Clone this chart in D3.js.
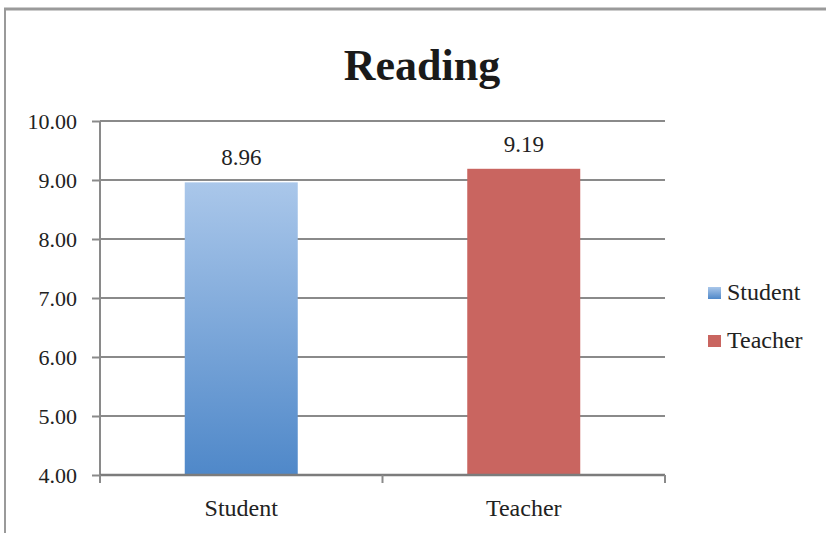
<!DOCTYPE html>
<html>
<head>
<meta charset="utf-8">
<script src="https://cdn.jsdelivr.net/npm/d3@7"></script>
<style>
  html, body { margin: 0; padding: 0; background: #fff; }
  svg { display: block; }
</style>
</head>
<body>
<svg id="chart" width="826" height="533"></svg>
<script>
// Average reading scores by respondent group
const categories = ["Student", "Teacher"];
const values = [8.96, 9.19];
const yTicks = [4, 5, 6, 7, 8, 9, 10];
const title = "Reading";

const colors = { Student: "#6f9fd6", Teacher: "#c96560" };

const svg = d3.select("#chart");
const W = 826, H = 533;
const margin = { left: 100, right: 161, top: 121, bottom: 58 };
const plotW = W - margin.left - margin.right;
const plotH = H - margin.top - margin.bottom;

const serif = "'Liberation Serif', 'DejaVu Serif', serif";
const gridColor = "#8a8a8a";
const textColor = "#222";

// Outer frame: top and left edges
svg.append("line").attr("x1", 4).attr("x2", W).attr("y1", 9).attr("y2", 9)
  .attr("stroke", "#9a9a9a").attr("stroke-width", 3);
svg.append("line").attr("x1", 5).attr("x2", 5).attr("y1", 8).attr("y2", H)
  .attr("stroke", "#9a9a9a").attr("stroke-width", 2);

// Gradient for the student bar
const defs = svg.append("defs");
const grad = defs.append("linearGradient").attr("id", "studentGrad")
  .attr("x1", 0).attr("y1", 0).attr("x2", 0).attr("y2", 1);
grad.append("stop").attr("offset", "0%").attr("stop-color", "#aac7ea");
grad.append("stop").attr("offset", "100%").attr("stop-color", "#4f88c9");

const g = svg.append("g").attr("transform", `translate(${margin.left},${margin.top})`);

const x = d3.scaleBand().domain(categories).range([0, plotW]).paddingInner(0.6).paddingOuter(0.3);
const y = d3.scaleLinear().domain([4, 10]).range([plotH, 0]);

// Horizontal gridlines
g.append("g").selectAll("line").data(yTicks.filter(d => d !== 4)).join("line")
  .attr("x1", 0).attr("x2", plotW)
  .attr("y1", d => y(d)).attr("y2", d => y(d))
  .attr("stroke", gridColor).attr("stroke-width", 2);

// Bars
g.append("g").selectAll("rect").data(categories).join("rect")
  .attr("x", d => x(d))
  .attr("width", x.bandwidth())
  .attr("y", (d, i) => y(values[i]))
  .attr("height", (d, i) => y(4) - y(values[i]))
  .attr("fill", d => d === "Student" ? "url(#studentGrad)" : colors[d]);

// Value labels
g.append("g").selectAll("text").data(categories).join("text")
  .attr("x", d => x(d) + x.bandwidth() / 2)
  .attr("y", (d, i) => y(values[i]) - 17)
  .attr("text-anchor", "middle")
  .attr("font-family", serif).attr("font-size", 23).attr("fill", textColor)
  .text((d, i) => values[i].toFixed(2));

// Y axis
const yAxis = g.append("g").call(
  d3.axisLeft(y).tickValues(yTicks).tickFormat(d3.format(".2f")).tickSize(8).tickPadding(15)
);
yAxis.select(".domain").attr("stroke", gridColor).attr("stroke-width", 2).attr("d", `M0,0V${plotH}`);
yAxis.selectAll(".tick line").attr("stroke", gridColor).attr("stroke-width", 2);
yAxis.selectAll(".tick text").attr("font-family", serif).attr("font-size", 22).attr("fill", textColor);

// X axis with ticks at category boundaries
const xAxisG = g.append("g").attr("transform", `translate(0,${plotH})`);
xAxisG.append("line").attr("x1", 0).attr("x2", plotW).attr("y1", 0).attr("y2", 0)
  .attr("stroke", "#7c7c7c").attr("stroke-width", 2.5);
const step = plotW / categories.length;
xAxisG.selectAll("line.sep").data(d3.range(categories.length + 1)).join("line")
  .attr("class", "sep")
  .attr("x1", d => d * step).attr("x2", d => d * step)
  .attr("y1", 0).attr("y2", 8)
  .attr("stroke", gridColor).attr("stroke-width", 2);
xAxisG.selectAll("text").data(categories).join("text")
  .attr("x", d => x(d) + x.bandwidth() / 2)
  .attr("y", 41)
  .attr("text-anchor", "middle")
  .attr("font-family", serif).attr("font-size", 24).attr("fill", textColor)
  .text(d => d);

// Title
svg.append("text")
  .attr("x", 422).attr("y", 80)
  .attr("text-anchor", "middle")
  .attr("font-family", serif).attr("font-weight", "bold").attr("font-size", 44)
  .attr("fill", "#1a1a1a")
  .text(title);

// Legend
const legend = svg.append("g").attr("transform", "translate(708,287)");
const li = legend.selectAll("g").data(categories).join("g")
  .attr("transform", (d, i) => `translate(0,${i * 48})`);
li.append("rect").attr("width", 13).attr("height", 12)
  .attr("fill", d => d === "Student" ? "url(#studentGrad)" : colors[d]);
li.append("text").attr("x", 19).attr("y", 13)
  .attr("font-family", serif).attr("font-size", 24).attr("fill", textColor)
  .text(d => d);
</script>
</body>
</html>
